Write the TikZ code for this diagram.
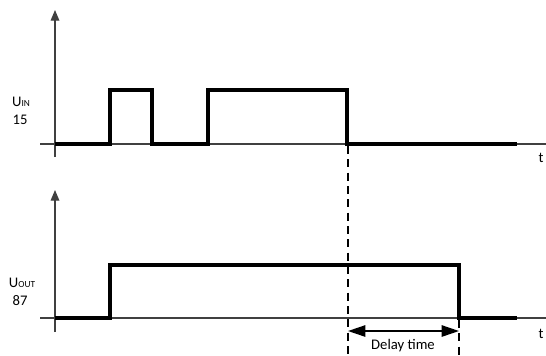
\documentclass[tikz,border=0pt]{standalone}
\usepackage{fontspec}
\setmainfont{Carlito}
\usetikzlibrary{arrows.meta}
\begin{document}
\begin{tikzpicture}[x=0.75pt,y=-0.75pt,
  axisline/.style={line width=0.9pt,draw=black!75},
  yaxis/.style={axisline,-{Triangle[length=8pt,width=6.5pt]}},
  signal/.style={line width=2.4pt,line join=miter},
  guide/.style={line width=1pt,dash pattern=on 6pt off 4pt},
  delay/.style={line width=1.2pt,{Triangle[length=13pt,width=8.5pt]}-{Triangle[length=13pt,width=8.5pt]}},
  lbl/.style={font=\fontsize{11pt}{13pt}\selectfont,inner sep=0pt}]
\useasboundingbox (0,0) rectangle (546,355);
% top chart
\draw[axisline] (40,144) -- (546,144);
\draw[yaxis] (55,157) -- (55,10);
\draw[signal] (55,144) -- (110,144) -- (110,90) -- (152,90) -- (152,144) -- (208,144) -- (208,90) -- (347,90) -- (347,144) -- (517,144);
\node[lbl] (uin) at (21,102) {U{\fontsize{7pt}{8pt}\selectfont IN}};
\node[lbl] (n15) at (20,120) {15};
\node[lbl] (t1) at (541,158) {t};
% bottom chart
\draw[axisline] (40,318) -- (546,318);
\draw[yaxis] (55,332) -- (55,190);
\draw[signal] (55,318) -- (110,318) -- (110,265) -- (459,265) -- (459,318) -- (517,318);
\node[lbl] (uout) at (22,283) {U{\fontsize{7pt}{8pt}\selectfont OUT}};
\node[lbl] (n87) at (20,301) {87};
\node[lbl] (t2) at (541,334) {t};
% delay
\coordinate (dA) at (348,331);
\coordinate (dB) at (459,331);
\draw[guide] (348,146) -- (348,355);
\draw[guide] (459,320) -- (459,355);
\draw[delay] (dA) -- (dB);
\node[lbl] (dt) at (403,346) {Delay time};
\end{tikzpicture}
\end{document}
